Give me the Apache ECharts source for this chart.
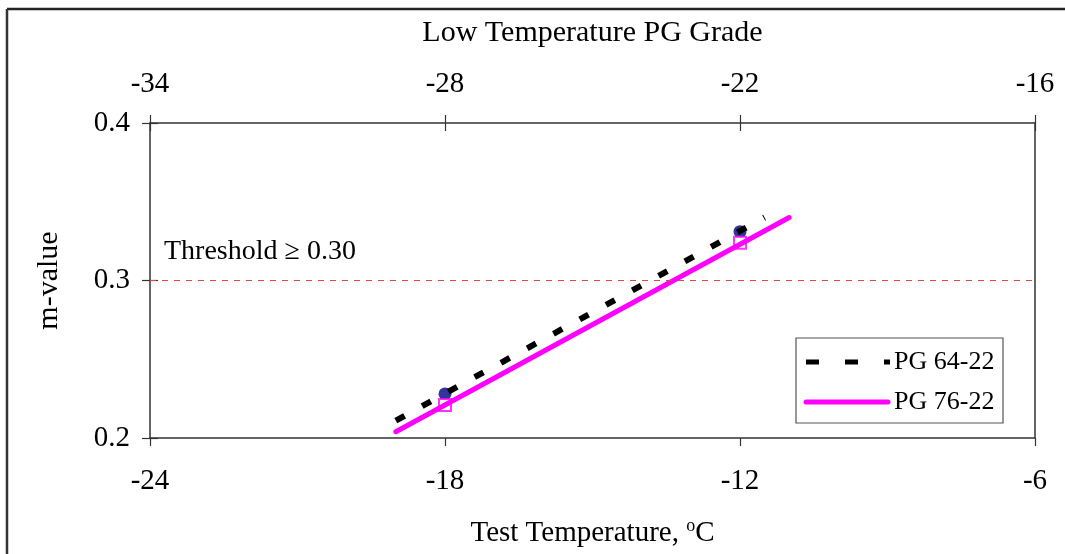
<!DOCTYPE html>
<html>
<head>
<meta charset="utf-8">
<script src="https://cdn.jsdelivr.net/npm/echarts@6/dist/echarts.min.js"></script>
<style>html,body{margin:0;padding:0;background:#fff}#c{width:1065px;height:554px}</style>
</head>
<body>
<div id="c"></div>
<script>
// ---- data ----
const xTicks = [-24, -18, -12, -6];          // Test temperature axis
const topTicks = [-34, -28, -22, -16];       // Low temperature PG grade axis
const yTicks = [0.2, 0.3, 0.4];
const seriesNames = ['PG 64-22', 'PG 76-22'];
const pg6422Points = [[-18, 0.228], [-12, 0.331]];
const pg7622Points = [[-18, 0.221], [-12, 0.324]];
const pg6422Trend = [[-19, 0.211], [-11.5, 0.340]];
const pg7622Trend = [[-19, 0.204], [-11, 0.340]];
const threshold = 0.30;

const FONT = '"Liberation Serif", "DejaVu Serif", serif';
const AX = '#333';
const FS = 29;

const chart = echarts.init(document.getElementById('c'), null, {renderer: 'canvas'});
const option = {
  animation: false,
  backgroundColor: '#fff',
  textStyle: {fontFamily: FONT, color: '#000'},
  grid: {left: 150, right: 30, top: 123, bottom: 116},
  xAxis: [
    {
      type: 'value', position: 'bottom', min: xTicks[0], max: xTicks[xTicks.length - 1], interval: 6,
      axisLine: {show: true, onZero: false, lineStyle: {color: AX, width: 1.5}},
      axisTick: {show: true, inside: false, length: 8, lineStyle: {color: AX, width: 1.2}},
      axisLabel: {fontFamily: FONT, fontSize: FS, color: '#000', margin: 29},
      splitLine: {show: false},
      name: 'Test Temperature, {sup|o}C', nameLocation: 'middle', nameGap: 79,
      nameTextStyle: {fontFamily: FONT, fontSize: FS, color: '#000',
        rich: {sup: {fontFamily: FONT, fontSize: 18, verticalAlign: 'top', padding: [0, 0, 15, 0], color: '#000'}}}
    },
    {
      type: 'value', position: 'top', min: topTicks[0], max: topTicks[topTicks.length - 1], interval: 6,
      axisLine: {show: true, onZero: false, lineStyle: {color: AX, width: 1.5}},
      axisTick: {show: true, inside: false, length: 8, lineStyle: {color: AX, width: 1.2}},
      axisLabel: {fontFamily: FONT, fontSize: FS, color: '#000', margin: 24},
      splitLine: {show: false},
      name: 'Low Temperature PG Grade', nameLocation: 'middle', nameGap: 75,
      nameTextStyle: {fontFamily: FONT, fontSize: FS + 1, color: '#000'}
    },
    {
      type: 'value', position: 'top', min: topTicks[0], max: topTicks[topTicks.length - 1], interval: 6,
      axisLine: {show: false}, axisLabel: {show: false}, splitLine: {show: false},
      axisTick: {show: true, inside: true, length: 8, lineStyle: {color: AX, width: 1.2}}
    }
  ],
  yAxis: [
    {
      type: 'value', position: 'left', min: yTicks[0], max: yTicks[yTicks.length - 1], interval: 0.1,
      axisLine: {show: true, onZero: false, lineStyle: {color: AX, width: 1.5}},
      axisTick: {show: true, inside: false, length: 8, lineStyle: {color: AX, width: 1.2}},
      axisLabel: {fontFamily: FONT, fontSize: FS, color: '#000', margin: 20,
        formatter: v => v.toFixed(1)},
      splitLine: {show: false},
      name: 'm-value', nameLocation: 'middle', nameGap: 86, nameRotate: 90,
      nameTextStyle: {fontFamily: FONT, fontSize: FS + 1, color: '#000'}
    },
    {
      type: 'value', position: 'left', min: yTicks[0], max: yTicks[yTicks.length - 1], interval: 0.1,
      axisLine: {show: false}, axisLabel: {show: false}, splitLine: {show: false},
      axisTick: {show: true, inside: true, length: 8, lineStyle: {color: AX, width: 1.2}}
    },
    {
      type: 'value', position: 'right', min: yTicks[0], max: yTicks[yTicks.length - 1], interval: 0.1,
      axisLine: {show: true, onZero: false, lineStyle: {color: AX, width: 1.5}},
      axisTick: {show: false}, axisLabel: {show: false}, splitLine: {show: false}
    }
  ],
  graphic: [
    // outer chart border (only left and top are inside the picture)
    {type: 'line', shape: {x1: 7, y1: 9, x2: 1065, y2: 9}, style: {stroke: '#222', lineWidth: 2.5}, silent: true},
    {type: 'line', shape: {x1: 7, y1: 9, x2: 7, y2: 554}, style: {stroke: '#333', lineWidth: 2.5}, silent: true},
    // threshold label
    {type: 'text', x: 164, y: 238,
     style: {text: 'Threshold \u2265 0.30', font: '28px ' + FONT, fill: '#000'}},
    // legend box
    {type: 'rect', shape: {x: 796, y: 338, width: 207, height: 85},
     style: {fill: '#fff', stroke: '#555', lineWidth: 1.2}, z: 10},
    {type: 'line', shape: {x1: 806, y1: 362, x2: 890, y2: 362},
     style: {stroke: '#000', lineWidth: 5, lineDash: [13, 26], lineCap: 'butt'}, z: 11},
    {type: 'line', shape: {x1: 806, y1: 402, x2: 888, y2: 402},
     style: {stroke: '#ff00ff', lineWidth: 5, lineCap: 'round'}, z: 11},
    {type: 'text', x: 894, y: 362, z: 11,
     style: {text: seriesNames[0], font: '26px ' + FONT, fill: '#000', verticalAlign: 'middle'}},
    {type: 'text', x: 894, y: 402, z: 11,
     style: {text: seriesNames[1], font: '26px ' + FONT, fill: '#000', verticalAlign: 'middle'}}
  ],
  series: [
    {
      name: 'PG 64-22 data', type: 'scatter', data: pg6422Points, symbol: 'circle', symbolSize: 13,
      itemStyle: {color: '#000080'}, z: 2,
      markLine: {
        silent: true, symbol: 'none', label: {show: false},
        lineStyle: {color: '#e04848', width: 1, type: [6, 6]},
        data: [{yAxis: threshold}]
      }
    },
    {
      name: 'PG 76-22 data', type: 'scatter', data: pg7622Points, symbol: 'rect', symbolSize: 12,
      itemStyle: {color: '#fff', borderColor: '#ff00ff', borderWidth: 2}, z: 2
    },
    {
      name: seriesNames[0], type: 'line', data: pg6422Trend, symbol: 'none', z: 3,
      lineStyle: {color: '#000', width: 6, type: [10, 20], cap: 'butt'}, itemStyle: {color: '#000'}
    },
    {
      name: seriesNames[1], type: 'line', data: pg7622Trend, symbol: 'none', z: 3,
      lineStyle: {color: '#ff00ff', width: 5, cap: 'round'}, itemStyle: {color: '#ff00ff'}
    }
  ]
};
chart.setOption(option);
</script>
</body>
</html>
